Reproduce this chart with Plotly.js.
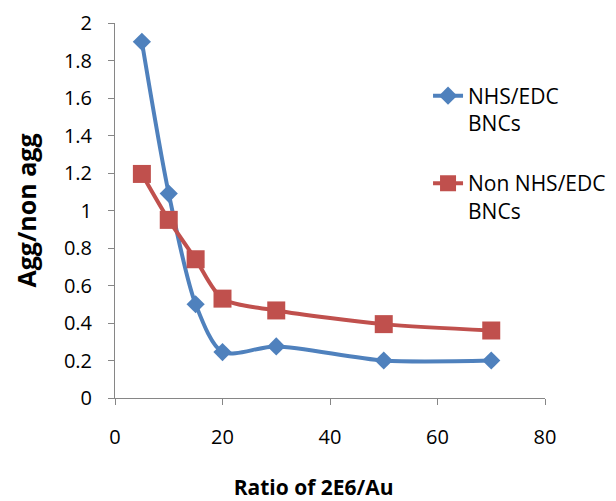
<!DOCTYPE html>
<html>
<head>
<meta charset="utf-8">
<script src="https://cdn.plot.ly/plotly-3.0.1.min.js"></script>
<style>html,body{margin:0;padding:0;background:#fff;}#chart{width:616px;height:501px;}</style>
</head>
<body>
<div id="chart"></div>
<script>
var ratios = [5, 10, 15, 20, 30, 50, 70];
var nhsEdc = [1.90, 1.09, 0.50, 0.245, 0.275, 0.20, 0.20];
var nonNhsEdc = [1.195, 0.95, 0.74, 0.53, 0.467, 0.394, 0.36];
var seriesNames = ['NHS/EDC<br>BNCs', 'Non NHS/EDC<br>BNCs'];

var traces = [
  {x: ratios, y: nhsEdc, name: seriesNames[0], legendgroup: 'a', type: 'scatter', mode: 'lines+markers',
   line: {color: '#4F81BD', width: 4, shape: 'spline', smoothing: 0.8},
   marker: {symbol: 'diamond', size: 14, color: '#4F81BD'}},
  {x: ratios, y: nonNhsEdc, name: seriesNames[1], legendgroup: 'b', type: 'scatter', mode: 'lines+markers',
   line: {color: '#C0504D', width: 4, shape: 'spline', smoothing: 0.8},
   marker: {symbol: 'square', size: 18, color: '#C0504D'}}
];

var fam = 'Open Sans, Noto Sans, sans-serif';
var layout = {
  width: 616, height: 501,
  margin: {l: 115, r: 71, t: 23, b: 103, autoexpand: false},
  paper_bgcolor: '#fff', plot_bgcolor: '#fff',
  font: {family: fam, size: 20, color: '#000'},
  showlegend: true,
  legend: {x: 0.728, y: 0.86, xanchor: 'left', yanchor: 'top', valign: 'top',
           font: {size: 21, color: '#000'},
           bgcolor: 'rgba(0,0,0,0)', tracegroupgap: 30},
  xaxis: {range: [0, 80], dtick: 20, tick0: 0, showgrid: false, zeroline: false,
          showline: true, linecolor: '#868686', linewidth: 1, ticks: 'outside', ticklen: 6,
          tickcolor: '#868686', tickfont: {size: 20}, ticklabelstandoff: 15,
          title: {text: '<b>Ratio of 2E6/Au</b>&nbsp;&nbsp;&nbsp;&nbsp;&nbsp;&nbsp;', font: {size: 21}, standoff: 37}},
  yaxis: {range: [0, 2], dtick: 0.2, tick0: 0, showgrid: false, zeroline: false,
          showline: true, linecolor: '#868686', linewidth: 1, ticks: 'outside', ticklen: 6,
          tickcolor: '#868686', tickfont: {size: 20}, ticklabelstandoff: 12,
          title: {text: '<b>Agg/non agg</b>', font: {size: 25}, standoff: 20}}
};

Plotly.newPlot('chart', traces, layout, {displayModeBar: false, staticPlot: true});
</script>
</body>
</html>
